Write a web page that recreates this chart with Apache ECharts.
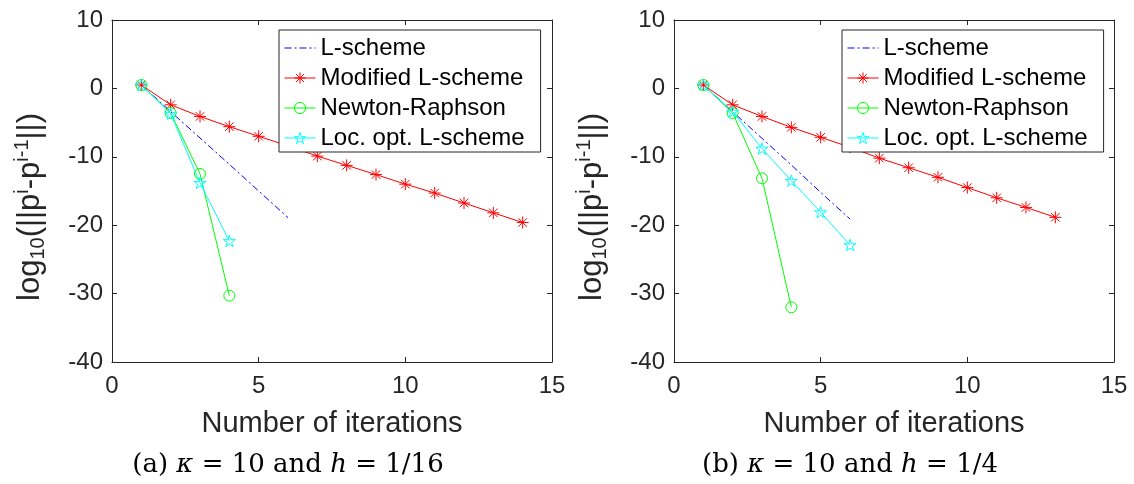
<!DOCTYPE html>
<html>
<head>
<meta charset="utf-8">
<script src="https://cdn.jsdelivr.net/npm/echarts@6/dist/echarts.min.js"></script>
<style>
html,body{margin:0;padding:0;background:#ffffff;}
#chart{width:1134px;height:484px;}
</style>
</head>
<body>
<div id="chart"></div>
<script>
// ---- data ----
const seriesNames = ['L-scheme', 'Modified L-scheme', 'Newton-Raphson', 'Loc. opt. L-scheme'];

// panel (a): kappa = 10, h = 1/16
const lSchemeA   = [0.5, -3.4, -7.25, -11.1, -15.0, -18.9];
const modifiedA  = [0.5, -2.4, -4.1, -5.6, -7.0, -8.4, -9.9, -11.25, -12.6, -14.0, -15.3, -16.75, -18.2, -19.6];
const newtonA    = [0.5, -3.6, -12.5, -30.3];
const locOptA    = [0.5, -3.7, -13.8, -22.3];

// panel (b): kappa = 10, h = 1/4
const lSchemeB   = [0.5, -3.4, -7.3, -11.2, -15.2, -19.1];
const modifiedB  = [0.5, -2.4, -4.1, -5.7, -7.15, -8.6, -10.2, -11.6, -13.0, -14.5, -16.0, -17.4, -18.85];
const newtonB    = [0.5, -3.6, -13.15, -32.0];
const locOptB    = [0.5, -3.4, -8.8, -13.5, -18.1, -22.9];

const xRange = [0, 15];
const xStep = 5;
const yRange = [-40, 10];
const yStep = 10;

const xTitle = 'Number of iterations';
const captionA = ['(a) ', 'κ', ' = 10 and ', 'h', ' = 1/16'];
const captionB = ['(b) ', 'κ', ' = 10 and ', 'h', ' = 1/4'];

// ---- styling ----
const AX = '#262626';
const SANS = 'Liberation Sans, Arial, Helvetica, sans-serif';
const SERIF = 'DejaVu Serif, Liberation Serif, serif';
const colors = ['#0000ff', '#ff0000', '#00ff00', '#00ffff'];
const asterisk = 'path://M0,-1L0,1M-1,0L1,0M-0.7071,-0.7071L0.7071,0.7071M-0.7071,0.7071L0.7071,-0.7071';
const star = 'path://M0,-1L0.2245,-0.309L0.951,-0.309L0.363,0.118L0.588,0.809L0,0.382L-0.588,0.809L-0.363,0.118L-0.951,-0.309L-0.2245,-0.309Z';
const symbols = ['none', asterisk, 'circle', star];
const symbolSizes = [0, 12, 11, 12];

function pts(arr) { return arr.map((v, i) => [i + 1, v]); }

const grids = [
  {left: 112, top: 20, width: 440, height: 342},
  {left: 674, top: 20, width: 440, height: 342}
];

const xAxes = [];
const yAxes = [];
grids.forEach((g, gi) => {
  xAxes.push({
    gridIndex: gi, type: 'value', position: 'bottom',
    min: xRange[0], max: xRange[1], interval: xStep,
    axisLine: {onZero: false, lineStyle: {color: AX, width: 1}},
    axisTick: {inside: true, length: 5, lineStyle: {color: AX}},
    axisLabel: {fontSize: 24, color: AX, fontFamily: SANS, margin: 12},
    splitLine: {show: false},
    name: xTitle, nameLocation: 'middle', nameGap: 47,
    nameTextStyle: {fontSize: 29, color: AX, fontFamily: SANS}
  });
  xAxes.push({
    gridIndex: gi, type: 'value', position: 'top',
    min: xRange[0], max: xRange[1], interval: xStep,
    axisLine: {onZero: false, lineStyle: {color: AX, width: 1}},
    axisTick: {inside: true, length: 5, lineStyle: {color: AX}},
    axisLabel: {show: false}, splitLine: {show: false}
  });
  yAxes.push({
    gridIndex: gi, type: 'value', position: 'left',
    min: yRange[0], max: yRange[1], interval: yStep,
    axisLine: {onZero: false, lineStyle: {color: AX, width: 1}},
    axisTick: {inside: true, length: 5, lineStyle: {color: AX}},
    axisLabel: {fontSize: 24, color: AX, fontFamily: SANS, margin: 9},
    splitLine: {show: false},
    name: '{b|log}{sub|10}{b|(||p}{sup|i}{b|-p}{sup|i-1}{b|||)}{sp|}',
    nameLocation: 'middle', nameGap: 63, nameRotate: 90,
    nameTextStyle: {
      color: AX, fontFamily: SANS,
      rich: {
        b: {fontSize: 31, color: AX, fontFamily: SANS},
        sub: {fontSize: 20, color: AX, fontFamily: SANS, padding: [15, 0, 0, 0]},
        sup: {fontSize: 20, color: AX, fontFamily: SANS, padding: [0, 0, 17, 0]},
        sp: {width: 32}
      }
    }
  });
  yAxes.push({
    gridIndex: gi, type: 'value', position: 'right',
    min: yRange[0], max: yRange[1], interval: yStep,
    axisLine: {onZero: false, lineStyle: {color: AX, width: 1}},
    axisTick: {inside: true, length: 5, lineStyle: {color: AX}},
    axisLabel: {show: false}, splitLine: {show: false}
  });
});

const panelData = [
  [lSchemeA, modifiedA, newtonA, locOptA],
  [lSchemeB, modifiedB, newtonB, locOptB]
];

const series = [];
panelData.forEach((sets, gi) => {
  const ax = gi * 2;
  sets.forEach((vals, si) => {
    const s = {
      name: seriesNames[si], type: 'line', xAxisIndex: ax, yAxisIndex: ax,
      data: pts(vals), symbol: symbols[si], symbolSize: symbolSizes[si],
      symbolKeepAspect: true,
      lineStyle: {color: colors[si], width: 1},
      itemStyle: {color: 'rgba(0,0,0,0)', borderColor: colors[si], borderWidth: 1}
    };
    if (si === 0) {
      s.lineStyle.type = [7, 3, 2, 3];
      s.itemStyle = {color: colors[0]};
    }
    series.push(s);
  });
});

function legendAt(left) {
  return {
    orient: 'vertical', left: left, top: 30,
    padding: [6, 16, 2, 5], itemGap: 6, itemWidth: 31, itemHeight: 14,
    borderColor: AX, borderWidth: 1, backgroundColor: '#ffffff',
    textStyle: {fontSize: 24, lineHeight: 24, color: '#000000', fontFamily: SANS},
    selectedMode: false,
    data: seriesNames.map((n, i) => ({
      name: n,
      itemStyle: i === 0
        ? {opacity: 0}
        : {color: 'rgba(0,0,0,0)', borderColor: colors[i], borderWidth: 1},
      lineStyle: {color: colors[i], width: 1, type: i === 0 ? [7, 3, 2, 3] : 'solid'}
    }))
  };
}

function captionText(parts, cx) {
  return {
    type: 'text', x: cx, y: 465,
    style: {
      text: '{r|' + parts[0] + '}{i|' + parts[1] + '}{r|' + parts[2] + '}{i|' + parts[3] + '}{r|' + parts[4] + '}',
      align: 'center', verticalAlign: 'middle',
      rich: {
        r: {fontSize: 26, fontFamily: SERIF, fill: '#000000'},
        i: {fontSize: 26, fontFamily: SERIF, fontStyle: 'italic', fill: '#000000'}
      },
      fill: '#000000'
    }
  };
}

const chart = echarts.init(document.getElementById('chart'), null, {renderer: 'canvas'});
chart.setOption({
  animation: false,
  backgroundColor: '#ffffff',
  grid: grids,
  xAxis: xAxes,
  yAxis: yAxes,
  legend: [legendAt(279), legendAt(842)],
  series: series,
  graphic: [captionText(captionA, 288), captionText(captionB, 850)]
});
</script>
</body>
</html>
